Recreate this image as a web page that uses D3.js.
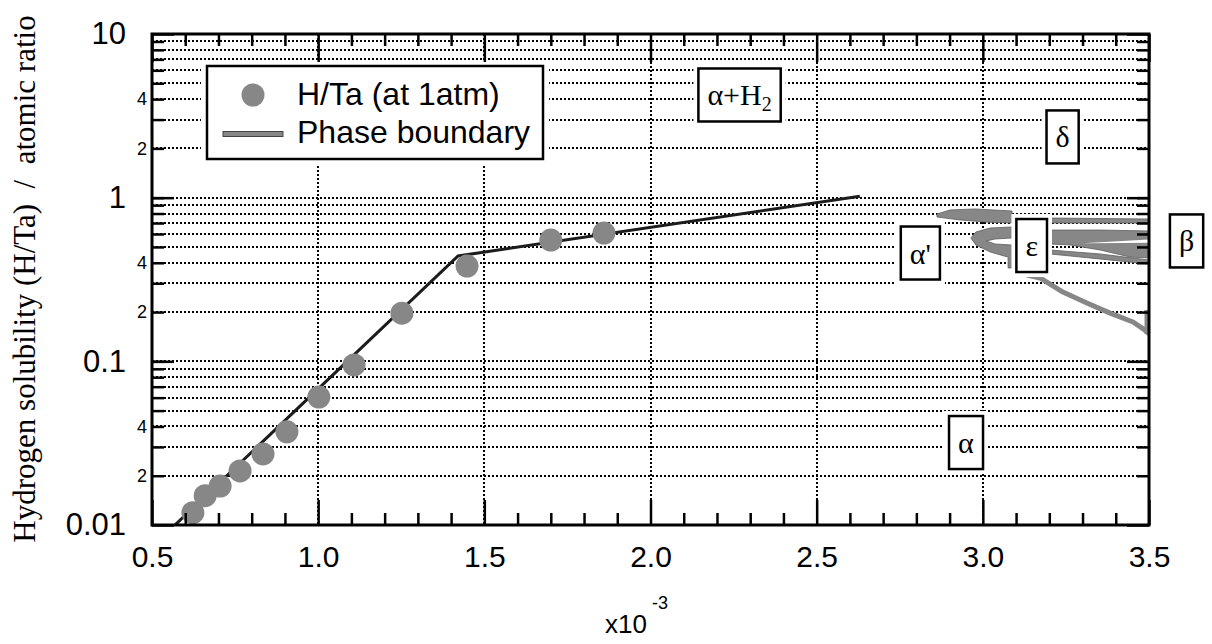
<!DOCTYPE html>
<html>
<head>
<meta charset="utf-8">
<script src="https://cdn.jsdelivr.net/npm/d3@7"></script>
<style>
  body { margin: 0; background: #fff; }
  svg { display: block; }
</style>
</head>
<body>
<svg id="chart" width="1212" height="644"></svg>
<script>
// Measured hydrogen solubility at 1 atm: inverse temperature (x10^-3 K^-1) and H/Ta
const invTemp = [0.623, 0.660, 0.705, 0.765, 0.834, 0.906, 1.002, 1.108, 1.252, 1.448, 1.700, 1.860];
const htaRatio = [0.0119, 0.0151, 0.0173, 0.0214, 0.0272, 0.0371, 0.0605, 0.095, 0.197, 0.382, 0.551, 0.608];

// Two-segment fit through the solubility data
const fitInvTemp = [0.569, 1.421, 2.63];
const fitRatio = [0.01, 0.44, 1.02];

// Phase-boundary bands of the Ta-H diagram, as [1/T, H/Ta] outlines
const bandDeltaLeft = [[2.862, 0.795], [2.901, 0.841], [2.976, 0.853], [3.088, 0.829], [3.088, 0.700],
  [3.007, 0.710], [2.931, 0.731], [2.886, 0.751], [2.862, 0.762]];
const bandDeltaRight = [[3.202, 0.751], [3.5, 0.741], [3.5, 0.700], [3.202, 0.700]];
const bandEpsilonNose = [[3.088, 0.662], [3.022, 0.653], [2.979, 0.617], [2.964, 0.567], [2.979, 0.514],
  [3.022, 0.466], [3.064, 0.440], [3.076, 0.434], [3.076, 0.372], [3.088, 0.372], [3.088, 0.514],
  [3.037, 0.521], [3.010, 0.544], [3.037, 0.559], [3.088, 0.567]];
const bandBetaUpper = [[3.202, 0.634], [3.353, 0.634], [3.5, 0.626], [3.5, 0.428], [3.443, 0.434],
  [3.353, 0.479], [3.262, 0.514], [3.202, 0.521]];
const gapBetaUpper = [[3.30, 0.527], [3.42, 0.544], [3.5, 0.556], [3.5, 0.530], [3.42, 0.528]];
const bandBetaLower = [[3.202, 0.479], [3.353, 0.453], [3.5, 0.416], [3.5, 0.393], [3.353, 0.422], [3.202, 0.453]];
const curveAlphaSolvus = [[3.133, 0.337], [3.172, 0.323], [3.241, 0.265], [3.313, 0.227], [3.383, 0.197],
  [3.452, 0.174], [3.488, 0.155], [3.5, 0.147]];
const curveAlphaSolvusEdge = [[3.494, 0.206], [3.494, 0.147]];

// Phase-field labels and their anchor points
const regionLabels = ["α+H_2", "δ", "α'", "ε", "β", "α"];
const regionInvTemp = [2.268, 3.240, 2.812, 3.147, 3.613, 2.949];
const regionRatio = [4.24, 2.35, 0.459, 0.51, 0.544, 0.0319];

// Axis ticks
const xTickValues = [0.5, 1.0, 1.5, 2.0, 2.5, 3.0, 3.5];
const xGridValues = [1.0, 1.5, 2.0, 2.5, 3.0];
const yDecadeValues = [0.01, 0.1, 1, 10];
const yDecadeLabels = ["0.01", "0.1", "1", "10"];
const ySmallLabelValues = [0.02, 0.04, 0.2, 0.4, 2, 4];
const ySmallLabels = ["2", "4", "2", "4", "2", "4"];

const legendItems = ["H/Ta (at 1atm)", "Phase boundary"];

const svg = d3.select("#chart");
const M = { l: 152, r: 1149, t: 34, b: 525 };
const x = d3.scaleLinear().domain([0.5, 3.5]).range([M.l, M.r]);
const y = d3.scaleLog().domain([0.01, 10]).range([M.b, M.t]);

const sans = "'Liberation Sans', Arial, Helvetica, sans-serif";
const serif = "'Liberation Serif', 'Times New Roman', serif";
const grey = "#878787";

svg.append("defs").append("clipPath").attr("id", "plotClip")
  .append("rect").attr("x", M.l).attr("y", M.t).attr("width", M.r - M.l).attr("height", M.b - M.t);

// minor log positions between decades
const yMinorValues = [];
for (let e = -2; e < 1; e++) {
  for (let m = 1; m < 10; m++) {
    const v = +(m * Math.pow(10, e)).toPrecision(6);
    if (v > 0.01 && v < 10) yMinorValues.push(v);
  }
}
const xMinorValues = d3.range(6, 35).map(d => d / 10).filter(d => Math.abs(d * 2 - Math.round(d * 2)) > 1e-6);

// dotted grid
const grid = svg.append("g").attr("stroke", "#000").attr("stroke-width", 2)
  .attr("stroke-dasharray", "2,2").attr("shape-rendering", "crispEdges");
grid.selectAll("line.h").data(yMinorValues).join("line")
  .attr("x1", M.l).attr("x2", M.r).attr("y1", d => Math.round(y(d))).attr("y2", d => Math.round(y(d)));
grid.selectAll("line.v").data(xGridValues).join("line")
  .attr("y1", M.t).attr("y2", M.b).attr("x1", d => Math.round(x(d))).attr("x2", d => Math.round(x(d)));

const plot = svg.append("g").attr("clip-path", "url(#plotClip)");

// fitted solubility line
const fitPts = fitInvTemp.map((d, i) => [d, fitRatio[i]]);
plot.append("path")
  .attr("d", d3.line().x(d => x(d[0])).y(d => y(d[1]))(fitPts))
  .attr("fill", "none").attr("stroke", "#1c1c1c").attr("stroke-width", 3);

// phase-boundary bands
const bandLine = d3.line().x(d => x(d[0])).y(d => y(d[1]));
const bands = svg.append("g");
[bandDeltaLeft, bandDeltaRight, bandEpsilonNose, bandBetaUpper, bandBetaLower].forEach(poly => {
  bands.append("path").attr("d", bandLine(poly) + "Z")
    .attr("fill", grey).attr("stroke", "#5e5e5e").attr("stroke-width", 0.8);
});
bands.append("path").attr("d", bandLine(gapBetaUpper) + "Z").attr("fill", "#fff");
[curveAlphaSolvus, curveAlphaSolvusEdge].forEach(c => {
  bands.append("path").attr("d", bandLine(c))
    .attr("fill", "none").attr("stroke", grey).attr("stroke-width", 5).attr("stroke-linejoin", "round");
});

// measured points
const pts = invTemp.map((d, i) => [d, htaRatio[i]]);
plot.selectAll("circle.pt").data(pts).join("circle")
  .attr("cx", d => x(d[0])).attr("cy", d => y(d[1])).attr("r", 11.5)
  .attr("fill", grey);

// boxed phase-field labels
regionLabels.forEach((lab, i) => {
  const g = svg.append("g");
  const cx = x(regionInvTemp[i]), cy = y(regionRatio[i]);
  const t = g.append("text").attr("x", cx).attr("y", cy).attr("dy", "0.35em")
    .attr("text-anchor", "middle").attr("font-family", serif).attr("font-size", 30);
  const parts = lab.split("_");
  t.append("tspan").text(parts[0]);
  if (parts[1]) t.append("tspan").attr("font-size", 20).attr("dy", 6).text(parts[1]);
  const bb = t.node().getBBox();
  const padX = 9;
  const bx = bb.x - padX, by = cy - 26.5, bw = bb.width + 2 * padX, bh = 53;
  g.insert("rect", "text").attr("x", bx - 5).attr("y", by - 5).attr("width", bw + 10).attr("height", bh + 10)
    .attr("fill", "#fff");
  g.insert("rect", "text").attr("x", bx).attr("y", by).attr("width", bw).attr("height", bh)
    .attr("fill", "#fff").attr("stroke", "#000").attr("stroke-width", 2.5);
});

// legend
const lg = svg.append("g");
lg.append("rect").attr("x", 201).attr("y", 60).attr("width", 348).attr("height", 105).attr("fill", "#fff");
lg.append("rect").attr("x", 207).attr("y", 66).attr("width", 336).attr("height", 93)
  .attr("fill", "#fff").attr("stroke", "#000").attr("stroke-width", 2.5);
lg.append("circle").attr("cx", 253).attr("cy", 95).attr("r", 11.5).attr("fill", grey);
lg.append("rect").attr("x", 223).attr("y", 131.5).attr("width", 60).attr("height", 5)
  .attr("fill", grey).attr("stroke", "#444").attr("stroke-width", 1);
lg.selectAll("text").data(legendItems).join("text")
  .attr("x", 297).attr("y", (d, i) => 105 + i * 38)
  .attr("font-family", sans).attr("font-size", 32).attr("fill", "#000").text(d => d);

// axes with inward ticks
function styleAxis(g) {
  g.select(".domain").remove();
  g.selectAll(".tick line").attr("stroke", "#000").attr("stroke-width", 2.5);
  g.selectAll("text").attr("font-family", sans).attr("fill", "#000");
}
svg.append("g").attr("transform", `translate(0,${M.b})`)
  .call(d3.axisBottom(x).tickValues(xTickValues).tickSize(-25).tickPadding(21).tickFormat(d3.format(".1f")))
  .call(styleAxis).call(g => g.selectAll("text").attr("font-size", 30));
svg.append("g").attr("transform", `translate(0,${M.b})`)
  .call(d3.axisBottom(x).tickValues(xMinorValues).tickSize(-12).tickFormat(""))
  .call(styleAxis);
svg.append("g").attr("transform", `translate(0,${M.t})`)
  .call(d3.axisTop(x).tickValues(xTickValues).tickSize(-28).tickFormat(""))
  .call(styleAxis);
svg.append("g").attr("transform", `translate(0,${M.t})`)
  .call(d3.axisTop(x).tickValues(xMinorValues).tickSize(-12).tickFormat(""))
  .call(styleAxis);
svg.append("g").attr("transform", `translate(${M.l},0)`)
  .call(d3.axisLeft(y).tickValues(yDecadeValues).tickSize(-22).tickPadding(26)
    .tickFormat((d, i) => yDecadeLabels[i]))
  .call(styleAxis).call(g => g.selectAll("text").attr("font-size", 31));
svg.append("g").attr("transform", `translate(${M.l},0)`)
  .call(d3.axisLeft(y).tickValues(yMinorValues).tickSize(-12).tickPadding(5)
    .tickFormat(d => { const k = ySmallLabelValues.findIndex(v => Math.abs(v - d) < 1e-9); return k >= 0 ? ySmallLabels[k] : ""; }))
  .call(styleAxis).call(g => g.selectAll("text").attr("font-size", 18));
svg.append("g").attr("transform", `translate(${M.r},0)`)
  .call(d3.axisRight(y).tickValues(yDecadeValues).tickSize(-22).tickFormat(""))
  .call(styleAxis);
svg.append("g").attr("transform", `translate(${M.r},0)`)
  .call(d3.axisRight(y).tickValues(yMinorValues).tickSize(-12).tickFormat(""))
  .call(styleAxis);

// frame
svg.append("rect").attr("x", M.l).attr("y", M.t).attr("width", M.r - M.l).attr("height", M.b - M.t)
  .attr("fill", "none").attr("stroke", "#000").attr("stroke-width", 3);

// axis titles
svg.append("text")
  .attr("transform", `translate(35,279) rotate(-90)`)
  .attr("text-anchor", "middle").attr("font-family", serif).attr("font-size", 31)
  .style("white-space", "pre")
  .text("Hydrogen solubility (H/Ta)  /  atomic ratio");
svg.append("text").attr("x", 605).attr("y", 633)
  .attr("font-family", sans).attr("font-size", 26).text("x10");
svg.append("text").attr("x", 652).attr("y", 609)
  .attr("font-family", sans).attr("font-size", 18).text("-3");
</script>
</body>
</html>
